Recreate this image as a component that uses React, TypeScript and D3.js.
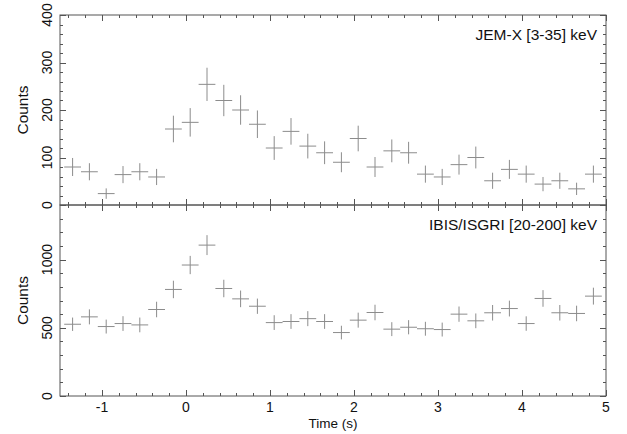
import React from "react";
import * as d3 from "d3";

const binCenters = [
  -1.35, -1.15, -0.95, -0.75, -0.55, -0.35, -0.15, 0.05, 0.25, 0.45, 0.65, 0.85,
  1.05, 1.25, 1.45, 1.65, 1.85, 2.05, 2.25, 2.45, 2.65, 2.85, 3.05, 3.25, 3.45,
  3.65, 3.85, 4.05, 4.25, 4.45, 4.65, 4.85,
];
const binWidth = 0.2;

const jemxCounts = [
  80, 70, 24, 64, 70, 59, 160, 174, 254, 220, 200, 170, 120, 155, 124, 110, 90,
  140, 80, 114, 110, 65, 59, 85, 100, 51, 75, 65, 44, 51, 34, 65,
];
const jemxErrors = [
  19, 18, 11, 18, 18, 17, 28, 30, 35, 33, 31, 29, 25, 28, 26, 24, 21, 27, 21,
  24, 23, 18, 17, 21, 23, 17, 20, 18, 15, 17, 13, 18,
];

const isgriCounts = [
  526, 580, 509, 531, 521, 634, 781, 960, 1106, 788, 712, 658, 538, 546, 567,
  546, 465, 556, 612, 490, 504, 493, 487, 600, 551, 610, 641, 531, 715, 610,
  605, 732,
];
const isgriErrors = [
  49, 55, 51, 54, 54, 57, 64, 67, 73, 64, 61, 56, 54, 54, 55, 54, 50, 55, 57,
  51, 52, 51, 51, 56, 54, 57, 58, 53, 61, 57, 57, 62,
];

const xTickLabels = [-1, 0, 1, 2, 3, 4, 5];
const jemxTickLabels = [0, 100, 200, 300, 400];
const isgriTickLabels = [0, 500, 1000];

const panelTitles = ["JEM-X [3-35] keV", "IBIS/ISGRI [20-200] keV"];

const W = 627;
const H = 434;
const left = 60;
const right = 606;
const topTop = 15;
const mid = 205;
const bottomBottom = 396;

const AXIS = "#555";
const DATA = "#8c8c8c";
const TEXT = "#111";
const FONT = "Liberation Sans, Arial, sans-serif";

type PanelProps = {
  y: d3.ScaleLinear<number, number>;
  counts: number[];
  errors: number[];
  majors: number[];
  minorStep: number;
  labels: number[];
  title: string;
  titleY: number;
  showBottomLabels: boolean;
};

export default function App() {
  const x = d3.scaleLinear().domain([-1.5, 5]).range([left, right]);
  const yTop = d3.scaleLinear().domain([0, 400]).range([mid, topTop]);
  const yBot = d3.scaleLinear().domain([0, 1400]).range([bottomBottom, mid]);

  const xMinor = d3.range(-1.4, 5.0001, 0.2).map((v) => Math.round(v * 10) / 10);

  const Panel = ({ y, counts, errors, majors, minorStep, labels, title, titleY, showBottomLabels }: PanelProps) => {
    const [y0, y1] = y.domain();
    const yMinor = d3.range(y0, y1 + 0.001, minorStep);
    const yTopPx = y(y1);
    const yBotPx = y(y0);
    const majorLen = 6;
    const minorLen = 3;
    return (
      <g>
        <rect x={left} y={yTopPx} width={right - left} height={yBotPx - yTopPx} fill="none" stroke={AXIS} strokeWidth={1} />
        {yMinor.map((v, i) => {
          const isMajor = majors.some((m) => Math.abs(m - v) < 1e-6);
          const len = isMajor ? majorLen : minorLen;
          const py = Math.round(y(v)) + 0.5;
          return (
            <g key={"yt" + i}>
              <line x1={left} x2={left + len} y1={py} y2={py} stroke={AXIS} />
              <line x1={right} x2={right - len} y1={py} y2={py} stroke={AXIS} />
            </g>
          );
        })}
        {xMinor.map((v, i) => {
          const isMajor = Math.abs(v - Math.round(v)) < 1e-6;
          const len = isMajor ? majorLen : minorLen;
          const px = Math.round(x(v)) + 0.5;
          return (
            <g key={"xt" + i}>
              <line x1={px} x2={px} y1={yBotPx} y2={yBotPx - len} stroke={AXIS} />
              <line x1={px} x2={px} y1={yTopPx} y2={yTopPx + len} stroke={AXIS} />
            </g>
          );
        })}
        {labels.map((v) => (
          <text
            key={"yl" + v}
            transform={`translate(52,${y(v)}) rotate(-90)`}
            textAnchor="middle"
            fontSize={14}
            fontFamily={FONT}
            fill={TEXT}
          >
            {v}
          </text>
        ))}
        <text
          transform={`translate(28,${(yTopPx + yBotPx) / 2}) rotate(-90)`}
          textAnchor="middle"
          fontSize={15.5}
          fontFamily={FONT}
          fill={TEXT}
        >
          Counts
        </text>
        <text x={597} y={titleY} textAnchor="end" fontSize={15.5} fontFamily={FONT} fill={TEXT}>
          {title}
        </text>
        {binCenters.map((c, i) => {
          const cy = y(counts[i]);
          return (
            <g key={"d" + i} stroke={DATA} strokeWidth={1}>
              <line x1={x(c - binWidth / 2)} x2={x(c + binWidth / 2)} y1={cy} y2={cy} />
              <line x1={x(c)} x2={x(c)} y1={y(counts[i] - errors[i])} y2={y(counts[i] + errors[i])} />
            </g>
          );
        })}
        {showBottomLabels &&
          xTickLabels.map((v) => (
            <text key={"xl" + v} x={x(v)} y={412} textAnchor="middle" fontSize={14} fontFamily={FONT} fill={TEXT}>
              {v}
            </text>
          ))}
      </g>
    );
  };

  return (
    <svg width={W} height={H} style={{ position: "absolute", left: 0, top: 0, background: "#fff" }}>
      <rect x={0} y={0} width={W} height={H} fill="#fff" />
      <Panel
        y={yTop}
        counts={jemxCounts}
        errors={jemxErrors}
        majors={jemxTickLabels}
        minorStep={20}
        labels={jemxTickLabels}
        title={panelTitles[0]}
        titleY={40}
        showBottomLabels={false}
      />
      <Panel
        y={yBot}
        counts={isgriCounts}
        errors={isgriErrors}
        majors={[0, 500, 1000]}
        minorStep={100}
        labels={isgriTickLabels.filter((v) => v !== 0)}
        title={panelTitles[1]}
        titleY={230}
        showBottomLabels={true}
      />
      <text
        transform={`translate(52,${yBot(0)}) rotate(-90)`}
        textAnchor="middle"
        fontSize={14}
        fontFamily={FONT}
        fill={TEXT}
      >
        0
      </text>
      <text x={(left + right) / 2} y={428} textAnchor="middle" fontSize={13.5} fontFamily={FONT} fill={TEXT}>
        Time (s)
      </text>
    </svg>
  );
}
